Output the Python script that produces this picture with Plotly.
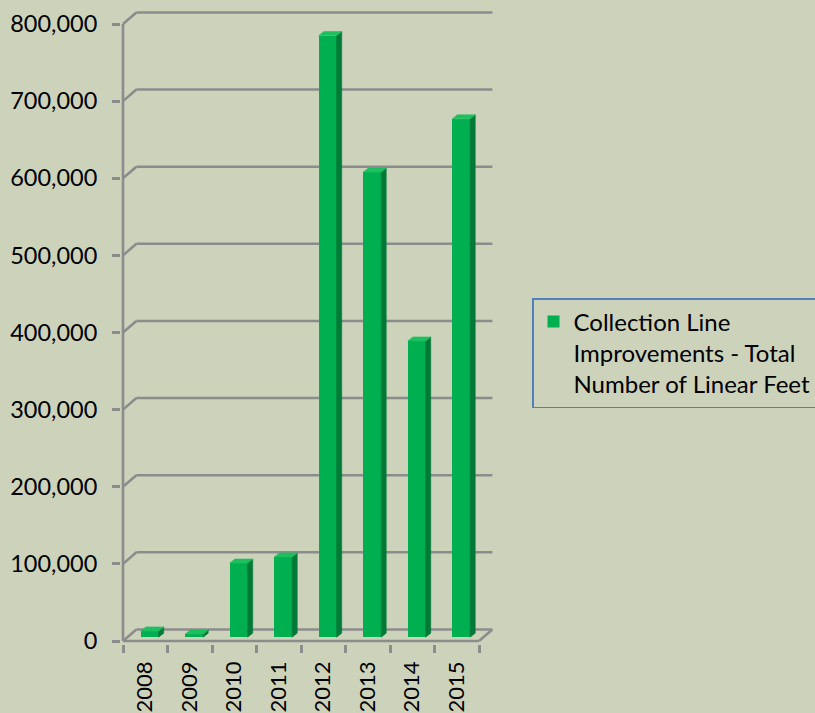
import plotly.graph_objects as go

# ---------------- data ----------------
years = ["2008", "2009", "2010", "2011", "2012", "2013", "2014", "2015"]
values = [8000, 4000, 96000, 104000, 780000, 603000, 384000, 672000]
y_ticks = [0, 100000, 200000, 300000, 400000, 500000, 600000, 700000, 800000]
series_name = "Collection Line<br>Improvements - Total<br>Number of Linear Feet"

# ---------------- styling / 3-D geometry (data units) ----------------
W = 0.40        # bar front-face width
OX = 0.10       # bar depth shift (x)
OY = 5000       # bar depth shift (y)
SDX = 0.115     # bar side depth (x)
SDY = 5200      # bar side depth (y)
WDX = 0.30      # wall depth (x)
WDY = 15000     # wall depth (y)
X0, X1 = -0.5, len(years) - 0.5

GREEN = "#00B050"
SIDE = "#007A36"
TOP = "#1DBF5E"
GRID = "#8C8C8C"
BG = "#CDD2BB"
FONT = "Lato"

xpos = [i + OX for i in range(len(years))]

fig = go.Figure()

fig.add_trace(go.Bar(
    x=xpos, y=values, base=OY, width=W,
    marker=dict(color=GREEN, line=dict(width=0)),
    name=series_name, showlegend=True, hoverinfo="skip",
))

side_x, side_y, top_x, top_y = [], [], [], []
for xc, v in zip(xpos, values):
    xl, xr = xc - W / 2, xc + W / 2
    b, h = OY, OY + v
    side_x += [xr, xr + SDX, xr + SDX, xr, xr, None]
    side_y += [b, b + SDY, h + SDY, h, b, None]
    top_x += [xl, xl + SDX, xr + SDX, xr, xl, None]
    top_y += [h, h + SDY, h + SDY, h, h, None]

fig.add_trace(go.Scatter(
    x=side_x, y=side_y, fill="toself", fillcolor=SIDE, mode="lines",
    line=dict(width=0.6, color=SIDE), showlegend=False, hoverinfo="skip",
))
fig.add_trace(go.Scatter(
    x=top_x, y=top_y, fill="toself", fillcolor=TOP, mode="lines",
    line=dict(width=0.6, color=TOP), showlegend=False, hoverinfo="skip",
))

# back-wall gridlines and floor
shapes = []
lw = 2.6
for t in y_ticks:
    shapes.append(dict(type="line", xref="x", yref="y", x0=X0, y0=t,
                       x1=X0 + WDX, y1=t + WDY, layer="below",
                       line=dict(color=GRID, width=lw)))
    shapes.append(dict(type="line", xref="x", yref="y", x0=X0 + WDX, y0=t + WDY,
                       x1=X1 + WDX, y1=t + WDY, layer="below",
                       line=dict(color=GRID, width=lw)))
shapes.append(dict(type="line", xref="x", yref="y", x0=X0, y0=0, x1=X1, y1=0,
                   layer="below", line=dict(color=GRID, width=lw)))
shapes.append(dict(type="line", xref="x", yref="y", x0=X1, y0=0, x1=X1 + WDX, y1=WDY,
                   layer="below", line=dict(color=GRID, width=lw)))
shapes.append(dict(type="line", xref="x", yref="y", x0=X0, y0=0, x1=X0, y1=y_ticks[-1],
                   layer="below", line=dict(color=GRID, width=lw)))

# pixel mapping
PXU = 44.5
KY = (641 - 24) / 800000.0
plot_l, plot_r = 121, 497
plot_t, plot_b = 6, 644
xr0 = X0 - (123 - plot_l) / PXU
xr1 = X0 + (plot_r - 123) / PXU
yr0 = -(plot_b - 641) / KY
yr1 = (641 - plot_t) / KY

fig.update_layout(
    width=815, height=713,
    margin=dict(l=plot_l, r=815 - plot_r, t=plot_t, b=713 - plot_b, pad=0,
                autoexpand=False),
    paper_bgcolor=BG, plot_bgcolor=BG,
    font=dict(family=FONT, size=22, color="#000000"),
    shapes=shapes,
    bargap=0,
    showlegend=True,
    legend=dict(
        x=(532 - plot_l) / (plot_r - plot_l), xanchor="left",
        y=(plot_b - 298) / (plot_b - plot_t), yanchor="top",
        bordercolor="#4F81BD", borderwidth=1.5, bgcolor="rgba(0,0,0,0)",
        valign="top", font=dict(family=FONT, size=24, color="#000000"),
        itemclick=False, itemdoubleclick=False,
    ),
    xaxis=dict(
        range=[xr0, xr1], showgrid=False, zeroline=False, showline=False,
        tickmode="array", tickvals=list(range(len(years))), ticktext=years,
        ticks="", tickangle=-90, ticklabelstandoff=12,
        tickfont=dict(family=FONT, size=22, color="#000000"),
        minor=dict(tickmode="array", tickvals=[i - 0.5 for i in range(len(years) + 1)],
                   ticks="outside", ticklen=8, tickwidth=2.5, tickcolor=GRID,
                   showgrid=False),
        fixedrange=True,
    ),
    yaxis=dict(
        range=[yr0, yr1], showgrid=False, zeroline=False, showline=False,
        tickmode="array", tickvals=y_ticks, tickformat=",",
        ticks="outside", ticklen=8, tickwidth=2.5, tickcolor=GRID,
        ticklabelstandoff=10,
        tickfont=dict(family=FONT, size=23.5, color="#000000"),
        fixedrange=True,
    ),
)

fig.write_html(
    "out.html",
    config={"displayModeBar": False},
    post_script="document.body.style.margin='0';document.body.style.background='" + BG + "';",
)
